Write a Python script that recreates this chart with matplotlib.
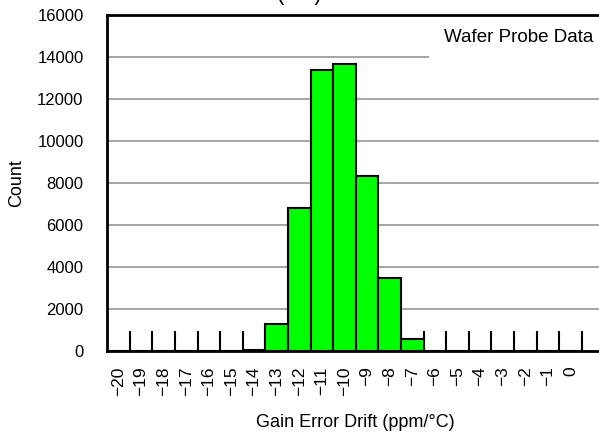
import matplotlib
matplotlib.use("Agg")
from matplotlib import pyplot as plt
import numpy as np

plt.rcParams["font.family"] = ["Liberation Sans", "DejaVu Sans"]

# Histogram bins (ppm/°C) and counts
drift_bins = list(range(-20, 1))
counts = [0, 0, 0, 0, 0, 0, 30, 1280, 6800, 13390, 13660, 8360, 3480, 570,
          0, 0, 0, 0, 0, 0, 0]
tick_labels = [str(b).replace("-", "\u2212") for b in drift_bins]
y_ticks = list(range(0, 16001, 2000))

fig = plt.figure(figsize=(5.99, 4.32), dpi=100)
ax = fig.add_axes([0.179, 0.1875, 0.830, 0.7775])

ax.bar(drift_bins, counts, width=1.0, color="#00ff00", edgecolor="black",
       linewidth=1.5, zorder=1)

ax.set_xlim(-20.5, 1.5)
ax.set_ylim(0, 16000)
ax.set_axisbelow(True)

# labels at bin centres, tall inward marks at bin edges
ax.set_xticks(drift_bins)
ax.set_xticklabels(tick_labels, rotation=90, fontsize=12.5)
ax.set_xticks(np.arange(-19.5, 1.0, 1.0), minor=True)
ax.tick_params(axis="x", which="major", length=0, pad=11)
ax.tick_params(axis="x", which="minor", direction="in", length=14.4,
               width=1.5, color="black")

ax.set_yticks(y_ticks)
ax.set_yticklabels([str(v) for v in y_ticks], fontsize=12)
ax.tick_params(axis="y", length=0, pad=17)
ax.yaxis.grid(True, color="#969696", linewidth=1.2)

for side in ["top", "bottom", "left"]:
    ax.spines[side].set_linewidth(2)
    ax.spines[side].set_color("black")
ax.spines["right"].set_visible(False)

ax.set_xlabel("Gain Error Drift (ppm/°C)", fontsize=13, labelpad=13)
ax.set_ylabel("Count", fontsize=13, labelpad=9)

# white box hides the grid line behind the note, but stays under the spines
ax.text(-5.6, 14950, "Wafer Probe Data", fontsize=13.5, ha="left",
        va="center", zorder=2,
        bbox=dict(facecolor="white", edgecolor="none", pad=11))

fig.text(0.5, 1 - 5 / 432, "(3/4)", fontsize=16, ha="center", va="bottom")

fig.savefig("out.png", dpi=100)
